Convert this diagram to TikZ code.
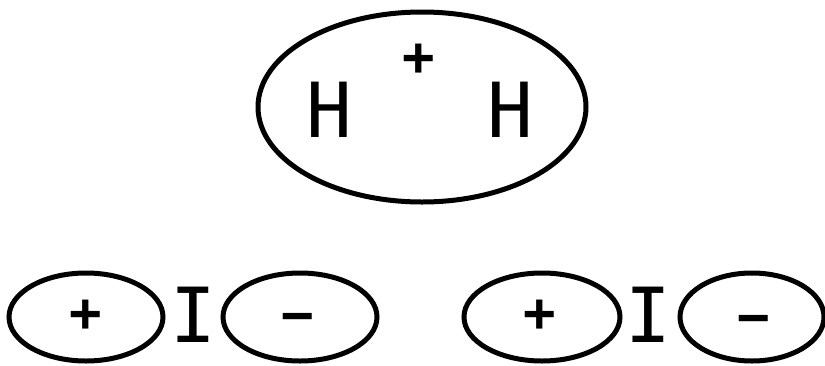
\documentclass[tikz,border=0pt]{standalone}
\usepackage{fontspec}
\newfontfamily\typefont{DejaVu Sans Mono}
\usetikzlibrary{calc}

\begin{document}
\begin{tikzpicture}[x=1pt,y=-1pt,
    oval/.style={line width=5pt},
    letter/.style={inner sep=0pt, font=\typefont\fontsize{76}{76}\selectfont},
    charge/.style={inner sep=0pt, font=\typefont\bfseries\fontsize{54}{54}\selectfont}]
    \useasboundingbox (0,0) rectangle (825,365);

    % パラメータの定義
    \pgfmathsetmacro{\rx}{77}
    \pgfmathsetmacro{\ry}{44}
    \pgfmathsetmacro{\yb}{317}

    % 中心の座標の定義
    \coordinate (M) at (422,107);
    \coordinate (P1) at (86,\yb);
    \coordinate (N1) at (300,\yb);
    \coordinate (P2) at (542,\yb);
    \coordinate (N2) at (752,\yb);

    % 楕円の描画
    \draw [oval] (M) ellipse [x radius=164pt, y radius=95pt];
    \draw [oval] (P1) ellipse [x radius=\rx pt, y radius=\ry pt];
    \draw [oval] (N1) ellipse [x radius=\rx pt, y radius=\ry pt];
    \draw [oval] (P2) ellipse [x radius=\rx pt+1pt, y radius=\ry pt];
    \draw [oval] (N2) ellipse [x radius=\rx pt-5pt, y radius=\ry pt];

    % 文字のラベル
    \node [letter] (HL) at (329,110) {H};
    \node [letter] (HR) at (510,110) {H};
    \node [charge] (pm) at (419,60) {+};
    \node [charge] (p1) at (86,316) {+};
    \node [letter] (I1) at (193,315) {I};
    \node [charge] (n1) at (298,323) {−};
    \node [charge] (p2) at (540,316) {+};
    \node [letter] (I2) at (648,315) {I};
    \node [charge] (n2) at (754,325) {−};

\end{tikzpicture}
\end{document}
